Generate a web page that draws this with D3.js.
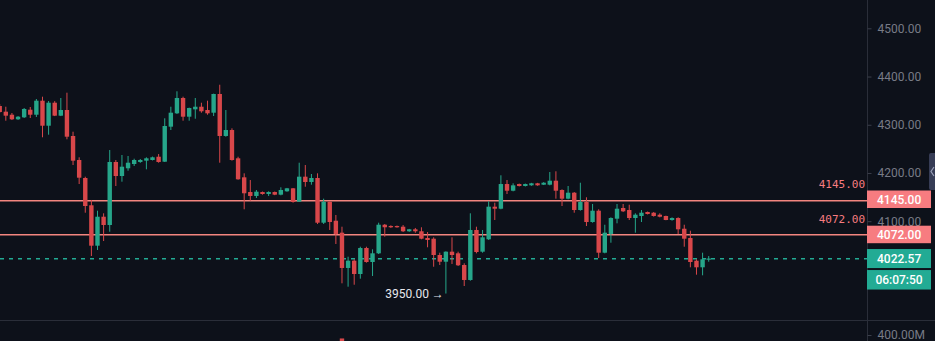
<html>
  <body style="margin:0;background:#0d111a">
    <style>
      .axis-label { font-family: Roboto, sans-serif; font-size: 12px; fill: #787b86; }
      .level-label { font-family: "DejaVu Sans Mono", monospace; font-size: 11px; fill: #f77c80; }
      .box-label { font-family: Roboto, sans-serif; font-size: 12px; font-weight: 500; fill: #ffffff; }
      .low-label { font-family: Roboto, sans-serif; font-size: 12px; fill: #e6e8ee; }
    </style>
    <script src="https://d3js.org/d3.v7.min.js"></script>
    <script type="text/javascript">
      var opens = [4338.9, 4327.1, 4320.8, 4311.3, 4315.4, 4331.2, 4320.8, 4349.9, 4298.0, 4345.7,
        4318.8, 4330.6, 4276.7, 4226.9, 4189.6, 4133.0, 4049.2, 4109.3, 4092.1, 4222.8,
        4193.7, 4209.7, 4218.6, 4222.8, 4225.5, 4226.9, 4233.7, 4223.4, 4296.0, 4323.7,
        4355.5, 4316.7, 4332.0, 4337.4, 4330.6, 4325.0, 4363.8, 4276.7, 4289.1, 4230.4,
        4191.0, 4160.5, 4152.3, 4160.5, 4156.4, 4160.5, 4155.0, 4162.0, 4168.2, 4140.4,
        4192.3, 4181.3, 4189.6, 4096.9, 4140.4, 4101.0, 4076.2, 4003.0, 4018.1, 3990.5,
        4044.4, 4015.4, 4033.4, 4092.7, 4090.0, 4090.0, 4088.6, 4079.1, 4083.2, 4079.1,
        4065.2, 4063.7, 4029.9, 4016.0, 4036.8, 4033.4, 4009.2, 3978.1, 4081.8, 4036.8,
        4062.5, 4130.1, 4125.9, 4177.1, 4163.2, 4177.1, 4173.0, 4174.4, 4178.6, 4175.7,
        4175.7, 4184.0, 4164.7, 4146.7, 4159.1, 4123.2, 4139.8, 4098.3, 4121.8, 4034.7,
        4073.5, 4105.2, 4127.4, 4123.2, 4106.6, 4110.8, 4119.1, 4117.6, 4113.5, 4110.8,
        4102.5, 4106.6, 4084.4, 4065.2, 4018.1, 4004.4, 4021.0];

      var highs = [4343.0, 4337.4, 4324.4, 4318.0, 4334.7, 4336.8, 4353.4, 4358.2, 4349.2, 4349.0,
        4355.5, 4366.5, 4285.6, 4232.5, 4192.3, 4144.0, 4121.8, 4116.4, 4247.6, 4226.9,
        4237.3, 4235.2, 4229.6, 4229.0, 4232.5, 4234.0, 4239.3, 4313.4, 4337.4, 4369.4,
        4358.2, 4335.5, 4355.5, 4345.7, 4349.9, 4364.5, 4383.0, 4330.6, 4292.6, 4233.7,
        4199.3, 4185.4, 4164.7, 4161.5, 4162.0, 4161.5, 4170.3, 4169.0, 4168.8, 4221.3,
        4216.5, 4197.9, 4199.3, 4146.7, 4141.0, 4112.9, 4088.6, 4026.4, 4021.0, 4047.1,
        4047.1, 4041.7, 4096.9, 4094.2, 4091.5, 4091.0, 4092.0, 4084.0, 4086.0, 4087.4,
        4077.6, 4066.6, 4034.7, 4037.5, 4066.6, 4036.8, 4012.7, 4116.4, 4088.6, 4081.8,
        4141.3, 4138.4, 4195.2, 4185.4, 4178.6, 4178.0, 4178.0, 4179.5, 4179.5, 4181.0,
        4202.0, 4203.5, 4166.1, 4173.0, 4160.5, 4179.8, 4149.6, 4135.7, 4124.7, 4092.7,
        4108.1, 4135.7, 4135.7, 4134.2, 4116.4, 4123.2, 4120.0, 4119.0, 4116.4, 4111.5,
        4108.0, 4108.1, 4092.7, 4080.3, 4021.0, 4034.7, 4027.8];

      var lows = [4324.4, 4308.4, 4309.8, 4310.0, 4314.0, 4314.0, 4316.1, 4274.0, 4279.4, 4318.0,
        4318.0, 4269.8, 4216.5, 4177.1, 4117.6, 4027.8, 4040.3, 4058.9, 4078.2, 4173.0,
        4181.9, 4204.7, 4214.5, 4221.0, 4207.6, 4226.0, 4221.3, 4222.8, 4289.1, 4322.3,
        4308.4, 4308.4, 4312.5, 4325.0, 4320.8, 4318.1, 4221.3, 4275.2, 4225.5, 4186.0,
        4124.7, 4142.5, 4148.1, 4155.0, 4152.3, 4154.0, 4153.7, 4161.0, 4138.4, 4139.8,
        4171.5, 4175.7, 4094.2, 4094.2, 4081.8, 4052.7, 3971.2, 3964.2, 3968.3, 3980.8,
        4014.0, 3986.4, 4032.0, 4067.9, 4086.0, 4086.5, 4077.6, 4078.0, 4076.0, 4062.5,
        4045.9, 4005.6, 4009.2, 3950.0, 4011.3, 4007.1, 3965.6, 3976.6, 4033.4, 4034.7,
        4061.0, 4102.5, 4124.7, 4156.4, 4162.0, 4172.0, 4172.0, 4173.5, 4173.5, 4175.0,
        4174.4, 4146.7, 4131.5, 4145.4, 4117.6, 4121.8, 4090.0, 4096.9, 4023.7, 4033.4,
        4055.4, 4095.6, 4119.0, 4102.5, 4076.2, 4098.3, 4114.0, 4109.5, 4108.0, 4102.0,
        4101.0, 4073.5, 4047.1, 4004.4, 3989.1, 3987.8, 4016.0];

      var closes = [4326.4, 4318.8, 4311.3, 4316.7, 4332.7, 4320.8, 4349.9, 4298.0, 4345.7, 4318.8,
        4330.6, 4275.2, 4225.5, 4190.2, 4131.5, 4049.2, 4109.3, 4092.1, 4222.8, 4193.7,
        4213.0, 4221.3, 4226.9, 4226.9, 4230.4, 4232.5, 4222.8, 4297.4, 4325.0, 4355.5,
        4316.7, 4334.7, 4337.4, 4327.9, 4323.7, 4363.8, 4276.7, 4289.1, 4226.9, 4186.9,
        4157.9, 4152.3, 4161.2, 4156.4, 4160.5, 4155.0, 4164.7, 4168.2, 4139.8, 4192.3,
        4181.3, 4189.6, 4096.9, 4140.4, 4098.3, 4073.5, 4003.0, 4018.1, 3990.5, 4044.4,
        4015.4, 4033.4, 4092.7, 4087.4, 4087.4, 4087.4, 4079.1, 4083.2, 4079.1, 4063.7,
        4061.0, 4029.9, 4016.0, 4036.8, 4029.9, 4008.6, 3978.1, 4081.8, 4036.1, 4066.6,
        4130.1, 4125.9, 4177.1, 4163.2, 4174.4, 4173.0, 4177.1, 4178.6, 4174.4, 4179.8,
        4184.0, 4163.2, 4146.7, 4159.1, 4123.2, 4139.8, 4098.3, 4121.8, 4034.7, 4076.2,
        4106.6, 4125.9, 4120.5, 4106.6, 4113.5, 4117.6, 4114.9, 4110.8, 4109.3, 4102.5,
        4106.6, 4083.2, 4063.7, 4015.4, 4004.4, 4021.0, 4022.57];

      // only one volume bar reaches into the visible strip
      var volumeBars = [[56, 377e6]];

      var priceTicks = [4100, 4200, 4300, 4400, 4500];
      var volumeTicks = [400e6];
      var levelPrices = [4145, 4072];
      var lastPrice = 4022.57;
      var countdown = "06:07:50";
      var lowMark = 3950;

      function autorun() {
        var width = 935, height = 341,
          axisX = 867, paneBottom = 320;

        var upColor = "#26a68a", downColor = "#d8474a",
          levelColor = "#f2857f", boxRed = "#f77c80", boxGreen = "#22ab94";

        var svg = d3.select("body").append("svg")
          .attr("width", width)
          .attr("height", height)
          .style("display", "block");

        svg.append("rect")
          .attr("width", width).attr("height", height)
          .attr("fill", "#0d111a");

        var x = d3.scaleLinear()
          .domain([0, opens.length - 1])
          .range([-0.3, 708.7]);

        var y = d3.scaleLinear()
          .domain([4100, 4500])
          .range([221.2, 28.3]);

        var yVol = d3.scaleLinear()
          .domain([0, 400e6])
          .range([395, 335]);

        // keep thin coloured lines on an even pixel pair so their colour survives
        function lineY(v) { return Math.round(v / 2) * 2 + 0.75; }

        svg.append("clipPath").attr("id", "pane")
          .append("rect").attr("width", axisX).attr("height", paneBottom);
        svg.append("clipPath").attr("id", "volpane")
          .append("rect").attr("y", paneBottom + 1).attr("width", axisX).attr("height", height - paneBottom);

        var data = opens.map(function(o, i) {
          return {i: i, o: o, h: highs[i], l: lows[i], c: closes[i]};
        });

        var g = svg.append("g").attr("clip-path", "url(#pane)");

        // horizontal levels
        g.selectAll(".level")
          .data(levelPrices)
          .enter().append("line")
          .attr("x1", 0).attr("x2", axisX)
          .attr("y1", function(d) { return lineY(y(d)); })
          .attr("y2", function(d) { return lineY(y(d)); })
          .attr("stroke", levelColor)
          .attr("stroke-width", 1.5);

        // last price dashed line
        g.append("line")
          .attr("x1", 0).attr("x2", axisX)
          .attr("y1", lineY(y(lastPrice))).attr("y2", lineY(y(lastPrice)))
          .attr("stroke", boxGreen)
          .attr("stroke-width", 1.5)
          .attr("stroke-dasharray", "4,5");

        // wicks
        g.selectAll(".wick")
          .data(data)
          .enter().append("rect")
          .attr("x", function(d) { return x(d.i) - 0.5; })
          .attr("width", 1)
          .attr("y", function(d) { return y(d.h); })
          .attr("height", function(d) { return Math.max(1, y(d.l) - y(d.h)); })
          .attr("fill", function(d) { return d.c >= d.o ? upColor : downColor; });

        // bodies
        g.selectAll(".body")
          .data(data)
          .enter().append("rect")
          .attr("x", function(d) { return x(d.i) - 2.2; })
          .attr("width", 4.4)
          .attr("y", function(d) { return y(Math.max(d.o, d.c)); })
          .attr("height", function(d) { return Math.max(1.2, Math.abs(y(d.o) - y(d.c))); })
          .attr("fill", function(d) { return d.c >= d.o ? upColor : downColor; });

        // level labels above lines
        g.selectAll(".level-label")
          .data(levelPrices)
          .enter().append("text")
          .attr("class", "level-label")
          .attr("x", axisX - 2)
          .attr("y", function(d) { return y(d) - 11.5; })
          .attr("text-anchor", "end")
          .text(function(d) { return d3.format(".2f")(d); });

        // lowest low marker
        var lowIndex = d3.minIndex(lows);
        g.append("text")
          .attr("class", "low-label")
          .attr("x", x(lowIndex) - 2)
          .attr("y", y(lowMark))
          .attr("dy", "0.35em")
          .attr("text-anchor", "end")
          .text(d3.format(".2f")(lowMark) + " \u2192");

        // volume bar peeking at the bottom
        svg.append("g").attr("clip-path", "url(#volpane)")
          .selectAll("rect")
          .data(volumeBars)
          .enter().append("rect")
          .attr("x", function(d) { return x(d[0]) - 2.2; })
          .attr("width", 4.4)
          .attr("y", function(d) { return yVol(d[1]); })
          .attr("height", function(d) { return yVol(0) - yVol(d[1]); })
          .attr("fill", function(d) { return closes[d[0]] >= opens[d[0]] ? upColor : downColor; });

        // separators
        svg.append("line")
          .attr("x1", axisX + 0.5).attr("x2", axisX + 0.5)
          .attr("y1", 0).attr("y2", height)
          .attr("stroke", "#2a2e39");
        svg.append("line")
          .attr("x1", 0).attr("x2", width)
          .attr("y1", paneBottom + 0.5).attr("y2", paneBottom + 0.5)
          .attr("stroke", "#2a2e39");

        // price axis
        var yAxis = d3.axisRight(y)
          .tickValues(priceTicks)
          .tickSize(4)
          .tickPadding(6)
          .tickFormat(d3.format(".2f"));
        var ax = svg.append("g")
          .attr("transform", "translate(" + (axisX + 0.5) + ",0)")
          .call(yAxis);
        ax.select(".domain").remove();
        ax.selectAll("line").attr("stroke", "#3a3e4a");
        ax.selectAll("text").attr("class", "axis-label").attr("fill", null)
          .attr("font-family", null).attr("font-size", null);

        var vAxis = d3.axisRight(yVol)
          .tickValues(volumeTicks)
          .tickSize(4)
          .tickPadding(6)
          .tickFormat(function(d) { return d3.format(".2f")(d / 1e6) + "M"; });
        var vax = svg.append("g")
          .attr("transform", "translate(" + (axisX + 0.5) + ",0)")
          .call(vAxis);
        vax.select(".domain").remove();
        vax.selectAll("line").attr("stroke", "#3a3e4a");
        vax.selectAll("text").attr("class", "axis-label").attr("fill", null)
          .attr("font-family", null).attr("font-size", null);

        // scroll tab
        svg.append("rect")
          .attr("x", 929).attr("y", 153).attr("width", 8).attr("height", 37)
          .attr("rx", 2)
          .attr("fill", "#363c55");
        svg.append("path")
          .attr("d", "M934,167 L931,171.5 L934,176")
          .attr("fill", "none").attr("stroke", "#9aa0b8").attr("stroke-width", 1.2);

        // axis boxes for levels
        var boxes = svg.selectAll(".lvlbox")
          .data(levelPrices)
          .enter().append("g");
        boxes.append("rect")
          .attr("x", axisX)
          .attr("y", function(d) { return y(d) - 9; })
          .attr("width", 64).attr("height", 17.5)
          .attr("fill", boxRed);
        boxes.append("text")
          .attr("class", "box-label")
          .attr("x", axisX + 10)
          .attr("y", function(d) { return y(d); })
          .attr("dy", "0.35em")
          .text(function(d) { return d3.format(".2f")(d); });

        // last price and countdown
        var ly = y(lastPrice);
        svg.append("rect")
          .attr("x", axisX).attr("y", ly - 9.5)
          .attr("width", 64).attr("height", 19)
          .attr("fill", boxGreen);
        svg.append("text")
          .attr("class", "box-label")
          .attr("x", axisX + 10).attr("y", ly)
          .attr("dy", "0.35em")
          .text(d3.format(".2f")(lastPrice));
        svg.append("rect")
          .attr("x", axisX).attr("y", ly + 11.5)
          .attr("width", 64).attr("height", 19.5)
          .attr("fill", boxGreen);
        svg.append("text")
          .attr("class", "box-label")
          .attr("x", axisX + 32).attr("y", ly + 21.3)
          .attr("dy", "0.35em")
          .attr("text-anchor", "middle")
          .text(countdown);
      }
      window.addEventListener("load", autorun, false);
    </script>
  </body>
</html>
